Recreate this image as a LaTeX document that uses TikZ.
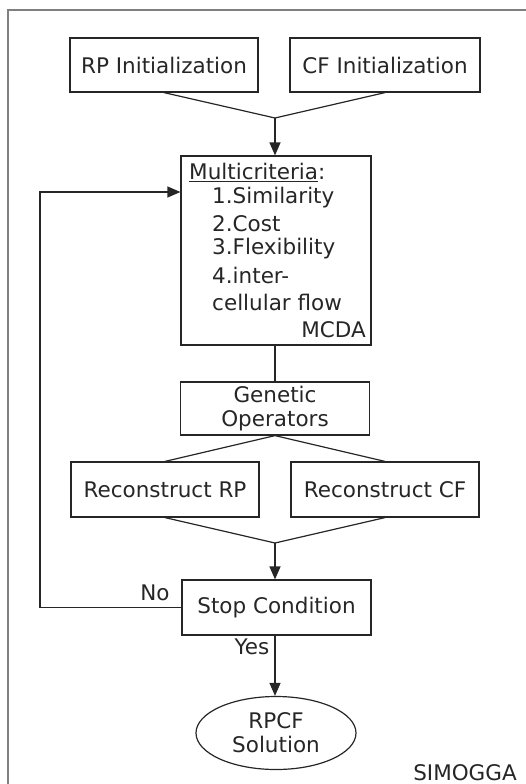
\documentclass[tikz,border=0pt]{standalone}
\usepackage{fontspec}
\setmainfont{DejaVu Sans}
\usetikzlibrary{arrows.meta,shapes.geometric}
\begin{document}
\begin{tikzpicture}[x=1pt,y=-1pt,
  font=\fontsize{21.5}{26}\selectfont,
  box/.style={draw=black!85,line width=1.2pt,rectangle,inner sep=0pt,align=center,text=black!85},
  lbl/.style={inner sep=0pt,text=black!85},
  conn/.style={draw=black!85,line width=1.2pt},
  arr/.style={conn,-{Triangle[length=13pt,width=11pt]}}]
\useasboundingbox (0,0) rectangle (526,784);
\draw[black!50,line width=2pt] (8,800) -- (8,10) -- (540,10);
\node[box,minimum width=188pt,minimum height=54pt] (rp) at (164,65) {RP Initialization};
\node[box,minimum width=190pt,minimum height=54pt] (cf) at (385,65) {CF Initialization};
\coordinate (j1) at (275,118);
\node[box,minimum width=190pt,minimum height=189pt] (multi) at (276,250.5) {};
\node[lbl,anchor=west] (mt) at (189,172) {\underline{Multicriteria}:};
\node[lbl,anchor=west] (c1) at (212,198) {1.Similarity};
\node[lbl,anchor=west] (c2) at (212,224) {2.Cost};
\node[lbl,anchor=west] (c3) at (212,249) {3.Flexibility};
\node[lbl,anchor=west] (c4) at (212,275) {4.inter-};
\node[lbl,anchor=west] (c5) at (212,302) {cellular flow};
\node[lbl,anchor=east] (mcda) at (366,330) {MCDA};
\node[box,minimum width=189pt,minimum height=53pt] (gen) at (275,408.5) {Genetic\\[-2pt]Operators};
\node[box,minimum width=188pt,minimum height=55pt] (rrp) at (165,489.5) {Reconstruct RP};
\node[box,minimum width=188pt,minimum height=55pt] (rcf) at (385,489.5) {Reconstruct CF};
\coordinate (j2) at (275,543);
\node[box,minimum width=189pt,minimum height=55pt] (stop) at (276.5,607.5) {Stop Condition};
\node[draw=black!85,line width=1.2pt,ellipse,inner sep=0pt,minimum width=160pt,minimum height=73pt,align=center,text=black!85] (sol) at (276,733) {RPCF\\[-2pt]Solution};
\node[lbl,anchor=base] (simo) at (465,780) {SIMOGGA};
\coordinate (fb) at (40,192);
\draw[conn] (rp.south) -- (j1);
\draw[conn] (cf.south) -- (j1);
\draw[arr] (j1) -- (j1 |- multi.north);
\draw[conn] (multi.south -| gen.north) -- (gen.north);
\draw[conn] (gen.south) -- (rrp.north);
\draw[conn] (gen.south) -- (rcf.north);
\draw[conn] (rrp.south) -- (j2);
\draw[conn] (rcf.south) -- (j2);
\draw[arr] (j2) -- (j2 |- stop.north);
\draw[arr] (stop.south -| j2) -- (j2 |- sol.north);
\draw[arr] (stop.west) -| (fb) -- (fb -| multi.west);
\node[lbl] (no) at (155,593) {No};
\node[lbl] (yes) at (252,647) {Yes};
\end{tikzpicture}
\end{document}
